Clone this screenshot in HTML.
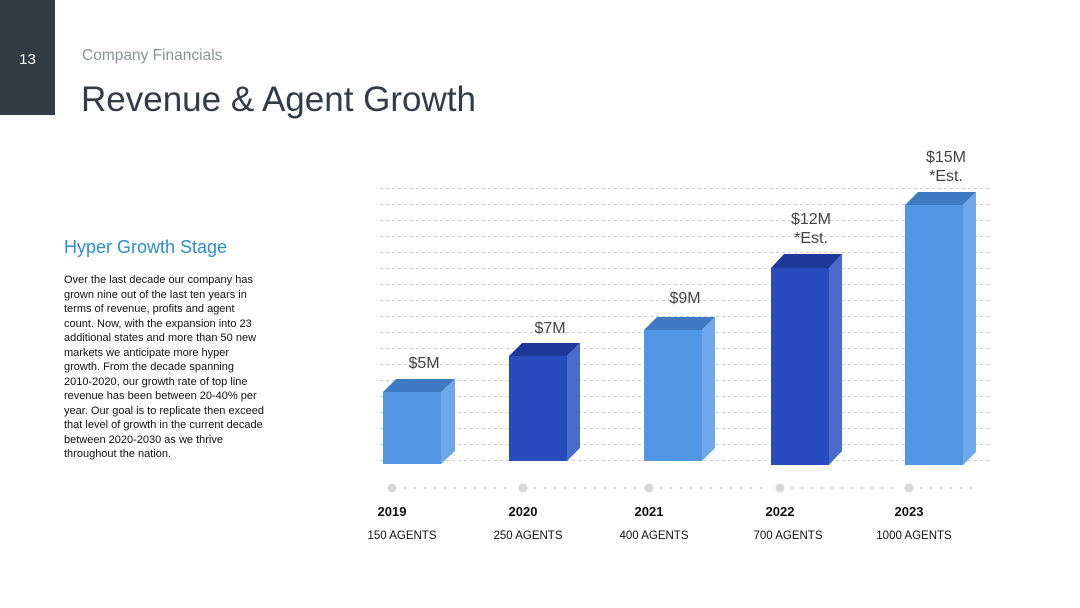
<!DOCTYPE html>
<html><head><style>
body{margin:0;width:1080px;height:608px;background:#fff;position:relative;overflow:hidden;font-family:"Liberation Sans",sans-serif}
.a{position:absolute}
</style></head><body>
<div class="a" style="left:0;top:0;width:55px;height:115px;background:#343b44"></div>
<div class="a" style="left:0;top:51px;width:55px;text-align:center;color:#fff;font-size:15px">13</div>
<div class="a" style="left:82px;top:47px;color:#8d939b;font-size:15.5px">Company Financials</div>
<div class="a" style="left:81px;top:80px;color:#323b46;font-size:35px">Revenue &amp; Agent Growth</div>
<div class="a" style="left:64px;top:237px;color:#2a8fcf;font-size:18px">Hyper Growth Stage</div>
<div class="a" style="left:64px;top:273px;width:200px;color:#111;font-size:11px;line-height:14.5px">Over the last decade our company has grown nine out of the last ten years in terms of revenue, profits and agent count. Now, with the expansion into 23 additional states and more than 50 new markets we anticipate more hyper growth. From the decade spanning 2010-2020, our growth rate of top line revenue has been between 20-40% per year. Our goal is to replicate then exceed that level of growth in the current decade between 2020-2030 as we thrive throughout the nation.</div>
<svg class="a" style="left:0;top:0" width="1080" height="608">
<g stroke="#ccc" stroke-dasharray="3,3" stroke-width="1">
<line x1="380" x2="990" y1="188.5" y2="188.5"/><line x1="380" x2="990" y1="204.5" y2="204.5"/><line x1="380" x2="990" y1="220.5" y2="220.5"/><line x1="380" x2="990" y1="236.5" y2="236.5"/><line x1="380" x2="990" y1="252.5" y2="252.5"/><line x1="380" x2="990" y1="268.5" y2="268.5"/><line x1="380" x2="990" y1="284.5" y2="284.5"/><line x1="380" x2="990" y1="300.5" y2="300.5"/><line x1="380" x2="990" y1="316.5" y2="316.5"/><line x1="380" x2="990" y1="332.5" y2="332.5"/><line x1="380" x2="990" y1="348.5" y2="348.5"/><line x1="380" x2="990" y1="364.5" y2="364.5"/><line x1="380" x2="990" y1="380.5" y2="380.5"/><line x1="380" x2="990" y1="396.5" y2="396.5"/><line x1="380" x2="990" y1="412.5" y2="412.5"/><line x1="380" x2="990" y1="428.5" y2="428.5"/><line x1="380" x2="990" y1="444.5" y2="444.5"/><line x1="380" x2="990" y1="460.5" y2="460.5"/>
</g>
<g>
<polygon points="383,392 396,379 455,379 441,392" fill="#3f7bc2"/><rect x="383" y="392" width="58" height="72" fill="#5296e3"/><polygon points="441,392 455,379 455,451 441,464" fill="#6ca8ea"/>
<polygon points="509,356 522,343 580,343 567,356" fill="#20379a"/><rect x="509" y="356" width="58" height="105" fill="#284bbd"/><polygon points="567,356 580,343 580,448 567,461" fill="#4a6bcb"/>
<polygon points="644,330 657,317 715,317 702,330" fill="#3f7bc2"/><rect x="644" y="330" width="58" height="131" fill="#5296e3"/><polygon points="702,330 715,317 715,448 702,461" fill="#6ca8ea"/>
<polygon points="771,268 784,254 842,254 829,268" fill="#20379a"/><rect x="771" y="268" width="58" height="197" fill="#284bbd"/><polygon points="829,268 842,254 842,451 829,465" fill="#4a6bcb"/>
<polygon points="905,205 918,192 976,192 963,205" fill="#3f7bc2"/><rect x="905" y="205" width="58" height="260" fill="#5296e3"/><polygon points="963,205 976,192 976,452 963,465" fill="#6ca8ea"/>
</g>
<g font-family="Liberation Sans, sans-serif" font-size="16" fill="#444" text-anchor="middle">
<text x="424" y="368">$5M</text><text x="550" y="333">$7M</text><text x="685" y="303">$9M</text>
<text x="811" y="224">$12M</text><text x="811" y="243">*Est.</text>
<text x="946" y="162">$15M</text><text x="946" y="181">*Est.</text>
</g>
<g fill="#d6d6d6">
<circle cx="392" cy="488" r="4.5"/><circle cx="523" cy="488" r="4.5"/><circle cx="649" cy="488" r="4.5"/><circle cx="780" cy="488" r="4.5"/><circle cx="909" cy="488" r="4.5"/>
</g>
<g fill="#ddd">
<circle cx="405" cy="488" r="1.5"/><circle cx="415" cy="488" r="1.5"/><circle cx="425" cy="488" r="1.5"/><circle cx="435" cy="488" r="1.5"/><circle cx="445" cy="488" r="1.5"/><circle cx="455" cy="488" r="1.5"/><circle cx="465" cy="488" r="1.5"/><circle cx="475" cy="488" r="1.5"/><circle cx="485" cy="488" r="1.5"/><circle cx="495" cy="488" r="1.5"/><circle cx="505" cy="488" r="1.5"/>
<circle cx="535" cy="488" r="1.5"/><circle cx="545" cy="488" r="1.5"/><circle cx="555" cy="488" r="1.5"/><circle cx="565" cy="488" r="1.5"/><circle cx="575" cy="488" r="1.5"/><circle cx="585" cy="488" r="1.5"/><circle cx="595" cy="488" r="1.5"/><circle cx="605" cy="488" r="1.5"/><circle cx="615" cy="488" r="1.5"/><circle cx="625" cy="488" r="1.5"/><circle cx="635" cy="488" r="1.5"/>
<circle cx="661" cy="488" r="1.5"/><circle cx="671" cy="488" r="1.5"/><circle cx="681" cy="488" r="1.5"/><circle cx="691" cy="488" r="1.5"/><circle cx="701" cy="488" r="1.5"/><circle cx="711" cy="488" r="1.5"/><circle cx="721" cy="488" r="1.5"/><circle cx="731" cy="488" r="1.5"/><circle cx="741" cy="488" r="1.5"/><circle cx="751" cy="488" r="1.5"/><circle cx="761" cy="488" r="1.5"/>
<circle cx="792" cy="488" r="1.5"/><circle cx="802" cy="488" r="1.5"/><circle cx="812" cy="488" r="1.5"/><circle cx="822" cy="488" r="1.5"/><circle cx="832" cy="488" r="1.5"/><circle cx="842" cy="488" r="1.5"/><circle cx="852" cy="488" r="1.5"/><circle cx="862" cy="488" r="1.5"/><circle cx="872" cy="488" r="1.5"/><circle cx="882" cy="488" r="1.5"/><circle cx="892" cy="488" r="1.5"/>
<circle cx="921" cy="488" r="1.5"/><circle cx="931" cy="488" r="1.5"/><circle cx="941" cy="488" r="1.5"/><circle cx="951" cy="488" r="1.5"/><circle cx="961" cy="488" r="1.5"/><circle cx="971" cy="488" r="1.5"/>
</g>
<g font-family="Liberation Sans, sans-serif" fill="#111" text-anchor="middle">
<g font-size="13" font-weight="bold"><text x="392" y="516">2019</text><text x="523" y="516">2020</text><text x="649" y="516">2021</text><text x="780" y="516">2022</text><text x="909" y="516">2023</text></g>
<g font-size="11.5"><text x="402" y="539">150 AGENTS</text><text x="528" y="539">250 AGENTS</text><text x="654" y="539">400 AGENTS</text><text x="788" y="539">700 AGENTS</text><text x="914" y="539">1000 AGENTS</text></g>
</g>
</svg>
</body></html>
